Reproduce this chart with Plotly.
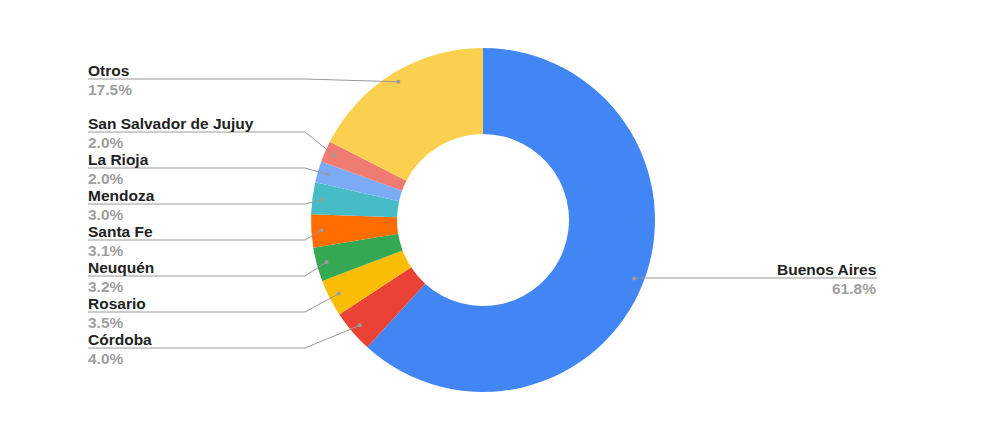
import math
import plotly.graph_objects as go

categories = ["Buenos Aires", "Córdoba", "Rosario", "Neuquén", "Santa Fe",
              "Mendoza", "La Rioja", "San Salvador de Jujuy", "Otros"]
values = [61.8, 4.0, 3.5, 3.2, 3.1, 3.0, 2.0, 2.0, 17.5]
colors = ["#4285F4", "#EA4335", "#FBBC04", "#34A853", "#FF6D01",
          "#46BDC6", "#7BAAF7", "#F07B72", "#FCD04F"]

W, H = 1000, 429
OFF = 8  # page body margin
CX, CY, R = 483, 220, 172
DOT_R = 162

def px(x):
    return (x - OFF) / W

def py(y):
    return 1 - (y - OFF) / H

fig = go.Figure()
fig.add_trace(go.Pie(
    labels=categories, values=values, hole=0.5, sort=False,
    direction="clockwise", rotation=0,
    marker=dict(colors=colors, line=dict(width=0)),
    textinfo="none", hoverinfo="label+percent", showlegend=False,
    domain=dict(x=[px(CX - R), px(CX + R)], y=[py(CY + R), py(CY - R)]),
))

total = sum(values)
cum = 0
left_line_y = {"Córdoba": 348, "Rosario": 312, "Neuquén": 276, "Santa Fe": 240,
               "Mendoza": 204, "La Rioja": 168, "San Salvador de Jujuy": 132,
               "Otros": 79}
shapes = []
annotations = []
LINE_COL = "#999999"
FONT = "Liberation Sans, Arial"
FS = 15.5
for cat, v in zip(categories, values):
    mid = (cum + v / 2) / total * 2 * math.pi
    cum += v
    dx = CX + DOT_R * math.sin(mid)
    dy = CY - DOT_R * math.cos(mid)
    pct = f"{v:.1f}%"
    shapes.append(dict(type="circle", xref="paper", yref="paper",
                       x0=px(dx - 2), x1=px(dx + 2), y0=py(dy + 2), y1=py(dy - 2),
                       fillcolor="#9e9e9e", line=dict(width=0), layer="above"))
    if cat in left_line_y:
        ly = left_line_y[cat]
        path = f"M {px(88)} {py(ly)} L {px(305)} {py(ly)} L {px(dx)} {py(dy)}"
        shapes.append(dict(type="path", xref="paper", yref="paper", path=path,
                           line=dict(color=LINE_COL, width=1), layer="above"))
        xa, xanchor = px(86), "left"
    else:
        ly = round(dy)
        shapes.append(dict(type="line", xref="paper", yref="paper",
                           x0=px(dx), y0=py(ly), x1=px(877), y1=py(ly),
                           line=dict(color=LINE_COL, width=1), layer="above"))
        xa, xanchor = px(878), "right"
    annotations.append(dict(xref="paper", yref="paper", x=xa, y=py(ly + 2),
                            xanchor=xanchor, yanchor="bottom", showarrow=False,
                            text=f"<b>{cat}</b>",
                            font=dict(family=FONT, size=FS, color="#222222")))
    annotations.append(dict(xref="paper", yref="paper", x=xa, y=py(ly),
                            xanchor=xanchor, yanchor="top", showarrow=False,
                            text=f"<b>{pct}</b>",
                            font=dict(family=FONT, size=FS, color="#a0a0a0")))

fig.update_layout(
    width=W, height=H, margin=dict(l=0, r=0, t=0, b=0),
    paper_bgcolor="white", plot_bgcolor="white",
    shapes=shapes, annotations=annotations,
)
fig.write_html("out.html")
